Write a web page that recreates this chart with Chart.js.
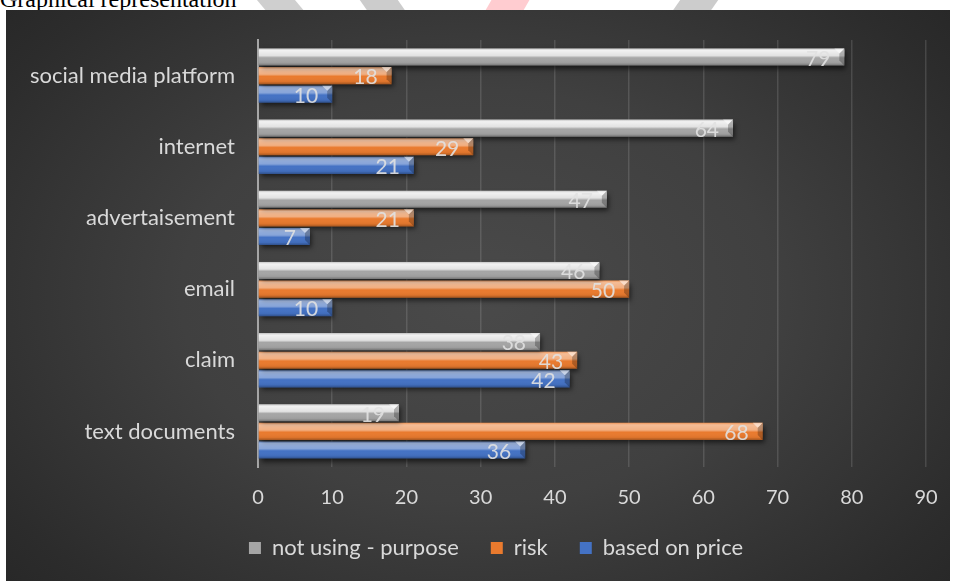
<!DOCTYPE html>
<html>
<head>
<meta charset="utf-8">
<script src="https://cdn.jsdelivr.net/npm/chart.js@4/dist/chart.umd.min.js"></script>
<style>
  body { margin: 0; background: #fff; width: 955px; height: 581px; overflow: hidden; position: relative; }
  .doc-title { position: absolute; left: 0; top: -13px; font: 24px "Liberation Serif", "Times New Roman", serif; line-height: 1; color: #000; white-space: nowrap; z-index: 2; }
  .stripe { position: absolute; top: 0; height: 12px; width: 38px; transform: skewX(35deg); }
  .panel { position: absolute; left: 6px; top: 10px; width: 944px; height: 571px; z-index: 3;
    background: radial-gradient(ellipse 70% 80% at 50% 50%, #4a4a4a 0%, #404040 45%, #2c2c2c 85%, #262626 100%); }
</style>
</head>
<body>
<div class="stripe" style="left:262px;background:#cfcfcf;transform:skewX(40deg)"></div>
<div class="stripe" style="left:364px;background:#cccccc;transform:skewX(35deg)"></div>
<div class="stripe" style="left:488px;background:#ffccd0;transform:skewX(-30deg)"></div>
<div class="stripe" style="left:676px;background:#cccccc;transform:skewX(-35deg)"></div>
<div class="doc-title">Graphical representation</div>
<div class="panel"><canvas id="chart" width="944" height="571"></canvas></div>
<script>
// chart data
const categories = ["social media platform", "internet", "advertaisement", "email", "claim", "text documents"];
const notUsingPurpose = [79, 64, 47, 46, 38, 19];
const risk = [18, 29, 21, 50, 43, 68];
const basedOnPrice = [10, 21, 7, 10, 42, 36];
const seriesNames = ["not using - purpose", "risk", "based on price"];
const xTicks = [0, 10, 20, 30, 40, 50, 60, 70, 80, 90];

const textColor = "#d9d9d9";
const fontFamily = "Lato, 'Open Sans', sans-serif";
const shine = [0.85, 0.5, 0.45];

// bevel + shadow look for the bars
const bevelPlugin = {
  id: "bevel",
  afterLayout(chart) {
    // legend sits a bit right of centre in the original
    chart.legend.left += 30;
    chart.legend.right += 30;
  },
  beforeDatasetDraw(chart) {
    const ctx = chart.ctx;
    ctx.save();
    ctx.shadowColor = "rgba(0,0,0,0.6)";
    ctx.shadowBlur = 5;
    ctx.shadowOffsetX = 2;
    ctx.shadowOffsetY = 3;
  },
  afterDatasetDraw(chart) {
    chart.ctx.restore();
  },
  afterDatasetsDraw(chart) {
    const ctx = chart.ctx;
    chart.data.datasets.forEach((ds, di) => {
      const meta = chart.getDatasetMeta(di);
      const s = shine[di];
      meta.data.forEach((bar, i) => {
        const p = bar.getProps(["x", "y", "base", "height"], true);
        const top = p.y - p.height / 2;
        const left = Math.min(p.base, p.x);
        const w = Math.abs(p.x - p.base);
        const h = p.height;
        ctx.save();
        const g = ctx.createLinearGradient(0, top, 0, top + h);
        g.addColorStop(0, "rgba(255,255,255," + (s * 0.4) + ")");
        g.addColorStop(0.12, "rgba(255,255,255," + s + ")");
        g.addColorStop(0.42, "rgba(255,255,255," + (s * 0.8) + ")");
        g.addColorStop(0.55, "rgba(255,255,255,0)");
        g.addColorStop(0.85, "rgba(0,0,0,0.05)");
        g.addColorStop(1, "rgba(0,0,0,0.3)");
        ctx.fillStyle = g;
        ctx.fillRect(left, top, w, h);
        // right end chamfer
        const b = Math.min(5, w / 2);
        ctx.beginPath();
        ctx.moveTo(p.x, top);
        ctx.lineTo(p.x - b, top + b);
        ctx.lineTo(p.x - b, top + h - b);
        ctx.lineTo(p.x, top + h);
        ctx.closePath();
        ctx.fillStyle = "rgba(0,0,0,0.25)";
        ctx.fill();
        ctx.beginPath();
        ctx.moveTo(p.x, top);
        ctx.lineTo(p.x - b * 2, top);
        ctx.lineTo(p.x - b, top + b);
        ctx.closePath();
        ctx.fillStyle = "rgba(255,255,255,0.5)";
        ctx.fill();
        ctx.restore();

        // value label, inside end
        ctx.save();
        ctx.font = "21px " + fontFamily;
        ctx.fillStyle = "rgba(225,225,225,0.9)";
        ctx.textAlign = "right";
        ctx.textBaseline = "middle";
        ctx.fillText(ds.data[i], p.x - 14, p.y + 2);
        ctx.restore();
      });
    });
  }
};

const ctx = document.getElementById("chart").getContext("2d");

new Chart(ctx, {
  type: "bar",
  data: {
    labels: categories,
    datasets: [
      { label: seriesNames[0], data: notUsingPurpose, backgroundColor: "#a5a5a5" },
      { label: seriesNames[1], data: risk, backgroundColor: "#e97a2e" },
      { label: seriesNames[2], data: basedOnPrice, backgroundColor: "#4472c4" }
    ]
  },
  options: {
    indexAxis: "y",
    responsive: false,
    animation: false,
    devicePixelRatio: 1,
    categoryPercentage: 0.785,
    barPercentage: 0.92,
    layout: { padding: { top: 30, right: 24, bottom: 12, left: 0 } },
    scales: {
      x: {
        min: 0,
        max: 90,
        afterBuildTicks: (scale) => { scale.ticks = xTicks.map(v => ({ value: v })); },
        afterFit: (scale) => {
          scale.height = 38;
          scale.paddingLeft = 0;
          scale.paddingRight = 0;
        },
        ticks: { color: textColor, font: { size: 20, family: fontFamily }, padding: 19 },
        grid: { color: "rgba(255,255,255,0.13)", lineWidth: 1.5, drawTicks: false },
        border: { display: false }
      },
      y: {
        afterFit: (scale) => {
          scale.width = 252;
          scale.paddingTop = 0;
          scale.paddingBottom = 0;
        },
        ticks: { color: textColor, font: { size: 22, family: fontFamily }, padding: 23 },
        grid: { display: false, drawTicks: false },
        border: { display: true, color: "#a6a6a6", width: 2 }
      }
    },
    plugins: {
      legend: {
        position: "bottom",
        labels: {
          color: textColor,
          font: { size: 22, family: fontFamily },
          boxWidth: 12,
          boxHeight: 12,
          padding: 32
        }
      },
      tooltip: { enabled: false }
    }
  },
  plugins: [bevelPlugin]
});
</script>
</body>
</html>
